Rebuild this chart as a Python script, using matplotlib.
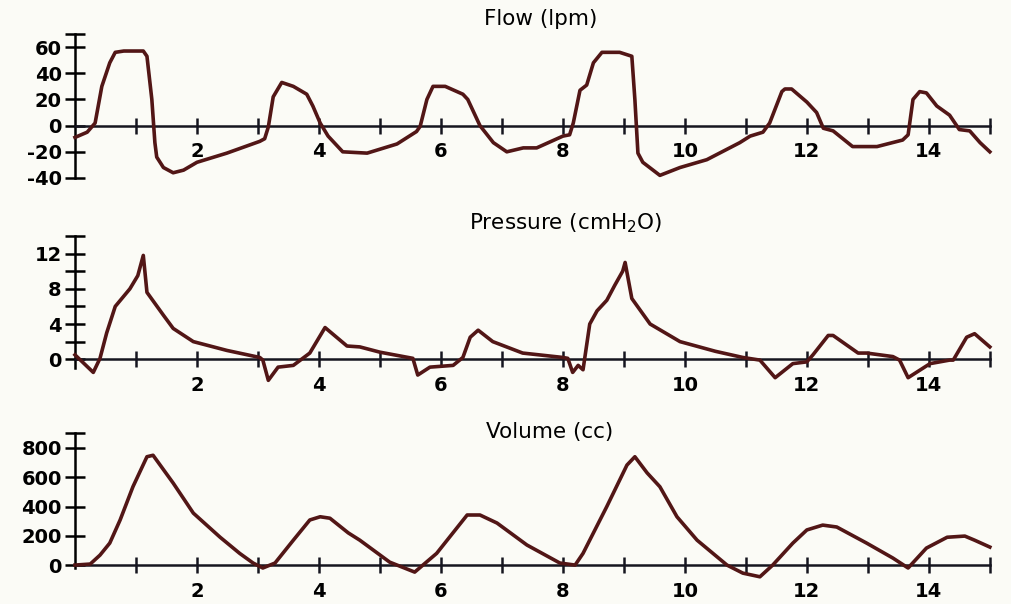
import matplotlib
matplotlib.use('Agg')
import matplotlib.pyplot as plt
from matplotlib.ticker import FixedLocator, NullFormatter

plt.rcParams['font.family'] = ['DejaVu Sans']
plt.rcParams['mathtext.default'] = 'regular'
plt.rcParams['axes.unicode_minus'] = False

# flow (lpm)
flow_t = [0.0, 0.2, 0.33, 0.44, 0.57, 0.66, 0.8, 1.12, 1.18, 1.26,
          1.31, 1.34, 1.45, 1.61, 1.78, 2.0, 2.49, 3.03, 3.11, 3.17,
          3.25, 3.39, 3.58, 3.8, 3.9, 4.02, 4.15, 4.39, 4.79, 5.28,
          5.6, 5.66, 5.77, 5.87, 6.07, 6.36, 6.44, 6.64, 6.86, 7.08,
          7.35, 7.57, 8.0, 8.11, 8.17, 8.28, 8.39, 8.5, 8.64, 8.93,
          9.13, 9.18, 9.23, 9.31, 9.59, 9.92, 10.36, 10.9, 11.07, 11.28,
          11.39, 11.59, 11.64, 11.75, 12.0, 12.16, 12.27, 12.43, 12.75, 13.15,
          13.57, 13.66, 13.74, 13.85, 13.96, 14.13, 14.34, 14.5, 14.67, 14.84,
          15.0]
flow = [-9, -5, 2, 30, 48, 56, 57, 57, 53, 20,
        -13, -24, -32, -36, -34, -28, -21, -12, -10, -1,
        22, 33, 30, 24, 15, 2, -8, -20, -21, -14,
        -4.5, -0.5, 20, 30, 30, 24, 20, 0, -13, -20,
        -17, -17, -8, -7, 2, 27, 31, 48, 56, 56,
        53, 20, -21, -28, -38, -32, -26, -13, -8, -5,
        2, 26, 28, 28, 18, 10, -2, -4, -16, -16,
        -11, -7, 20, 26, 25, 15, 8, -3, -4, -13,
        -20]

# pressure (cmH2O)
pres_t = [0.0, 0.3, 0.41, 0.52, 0.66, 0.9, 1.03, 1.12, 1.18, 1.45,
          1.61, 1.94, 2.49, 3.03, 3.08, 3.17, 3.33, 3.58, 3.85, 4.1,
          4.46, 4.67, 5.0, 5.54, 5.62, 5.82, 6.2, 6.36, 6.48, 6.61,
          6.85, 7.34, 8.0, 8.08, 8.16, 8.25, 8.33, 8.44, 8.56, 8.72,
          8.85, 8.98, 9.02, 9.13, 9.43, 9.92, 10.5, 10.95, 11.23, 11.48,
          11.77, 12.0, 12.1, 12.35, 12.43, 12.84, 12.98, 13.41, 13.52, 13.66,
          14.02, 14.34, 14.4, 14.62, 14.75, 15.0]
pressure = [0.5, -1.5, 0.1, 3, 6, 8, 9.5, 11.8, 7.6, 5,
            3.5, 2, 1, 0.2, -0.1, -2.4, -0.9, -0.7, 0.7, 3.6,
            1.5, 1.4, 0.8, 0.1, -1.8, -0.9, -0.7, 0.2, 2.5, 3.3,
            2, 0.7, 0.2, 0.1, -1.5, -0.7, -1.2, 4, 5.5, 6.7,
            8.4, 10, 11, 6.9, 4, 2, 0.9, 0.2, -0.1, -2.1,
            -0.5, -0.3, 0.5, 2.7, 2.7, 0.7, 0.7, 0.3, -0.1, -2.1,
            -0.5, -0.1, -0.1, 2.5, 2.9, 1.4]

# volume (cc)
vol_t = [0.0, 0.25, 0.41, 0.57, 0.74, 0.95, 1.18, 1.28, 1.61, 1.94,
         2.38, 2.7, 2.92, 3.08, 3.28, 3.58, 3.85, 4.02, 4.18, 4.48,
         4.67, 5.16, 5.57, 5.93, 6.43, 6.64, 6.92, 7.41, 7.95, 8.2,
         8.33, 8.72, 9.05, 9.18, 9.38, 9.59, 9.87, 10.2, 10.69, 10.95,
         11.23, 11.44, 11.77, 12.0, 12.26, 12.49, 12.98, 13.41, 13.66, 13.96,
         14.3, 14.59, 14.75, 15.0]
volume = [0, 7, 68, 150, 308, 535, 740, 750, 560, 355,
          190, 80, 14, -20, 14, 170, 308, 330, 320, 220,
          170, 20, -48, 80, 342, 342, 287, 137, 14, 0,
          80, 400, 683, 740, 630, 535, 330, 170, 0, -55,
          -80, 0, 150, 240, 273, 260, 150, 48, -20, 116,
          190, 198, 170, 123]

x_major = [2, 4, 6, 8, 10, 12, 14]
x_minor = [1, 3, 5, 7, 9, 11, 13, 15]

line_col = '#521616'
axis_col = '#15151f'
bg = '#fbfbf6'

fig = plt.figure(figsize=(10.12, 6.04), dpi=100, facecolor=bg)

panels = [
    # rect, t, y, ylim, major yticks, minor yticks, title, title pos
    ([0.0741, 0.7053, 0.904, 0.2384], flow_t, flow, (-40, 70),
     [-40, -20, 0, 20, 40, 60], [70], 'Flow (lpm)', (0.534, 0.9685)),
    ([0.0741, 0.3907, 0.904, 0.2185], pres_t, pressure, (-1, 14),
     [0, 4, 8, 12], [2, 6, 10, 14], r'Pressure (cmH$_2$O)', (0.559, 0.6308)),
    ([0.0741, 0.0596, 0.904, 0.2230], vol_t, volume, (-20, 900),
     [0, 200, 400, 600, 800], [900], 'Volume (cc)', (0.543, 0.2848)),
]

for rect, t, y, ylim, yt, ytm, title, tpos in panels:
    ax = fig.add_axes(rect)
    ax.set_facecolor('none')
    ax.plot(t, y, color=line_col, lw=2.6, clip_on=False, zorder=3,
            solid_joinstyle='round')
    ax.set_xlim(0, 15)
    ax.set_ylim(*ylim)
    for s in ['top', 'right']:
        ax.spines[s].set_visible(False)
    ax.spines['bottom'].set_position(('data', 0))
    ax.spines['bottom'].set_color(axis_col)
    ax.spines['bottom'].set_linewidth(1.8)
    ax.spines['left'].set_color('black')
    ax.spines['left'].set_linewidth(1.8)
    ax.spines['left'].set_bounds(ylim[0], max(yt + ytm))

    ax.xaxis.set_major_locator(FixedLocator(x_major))
    ax.xaxis.set_minor_locator(FixedLocator(x_minor))
    ax.xaxis.set_minor_formatter(NullFormatter())
    ax.tick_params(axis='x', which='both', direction='inout', length=12,
                   width=1.8, color=axis_col, pad=6, labelsize=14)
    ax.yaxis.set_major_locator(FixedLocator(yt))
    ax.yaxis.set_minor_locator(FixedLocator(ytm))
    ax.yaxis.set_minor_formatter(NullFormatter())
    ax.tick_params(axis='y', which='both', direction='inout', length=15,
                   width=1.8, color='black', pad=2, labelsize=14)
    for lab in ax.get_xticklabels() + ax.get_yticklabels():
        lab.set_fontweight('bold')

    fig.text(tpos[0], tpos[1], title, ha='center', va='center', fontsize=15.5)

fig.savefig('out.png', dpi=100, facecolor=bg)
